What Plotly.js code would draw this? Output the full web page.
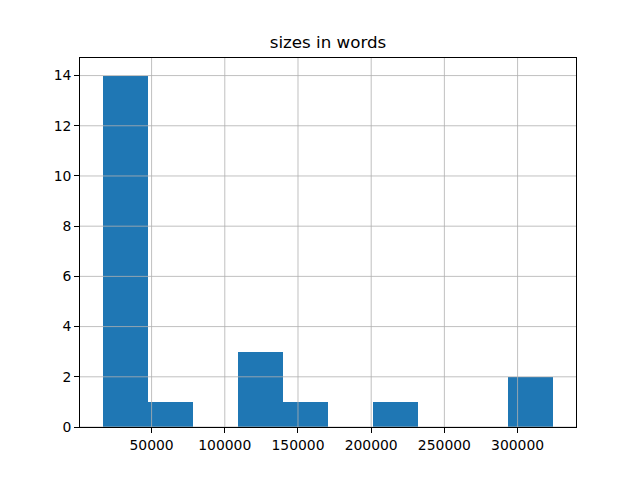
<!DOCTYPE html>
<html>
<head>
<meta charset="utf-8">
<script src="https://cdn.plot.ly/plotly-3.0.1.min.js"></script>
<style>html,body{margin:0;padding:0;background:#fff;}#chart{width:640px;height:480px;}</style>
</head>
<body>
<div id="chart"></div>
<script>
// Histogram bins (edges) and counts
const binEdges = [16500, 47300, 78100, 108900, 139700, 170500, 201300, 232100, 262900, 293700, 324500];
const counts = [14, 1, 0, 3, 1, 0, 1, 0, 0, 2];
const xTicks = [50000, 100000, 150000, 200000, 250000, 300000];
const yTicks = [0, 2, 4, 6, 8, 10, 12, 14];
const titleText = "sizes in words";

const centers = counts.map((c, i) => (binEdges[i] + binEdges[i + 1]) / 2);
const widths = counts.map((c, i) => binEdges[i + 1] - binEdges[i]);

const xRange = [1100, 339900];
const yRange = [0, 14.7];

const gridShapes = [];
xTicks.forEach(v => gridShapes.push({type: 'line', xref: 'x', yref: 'paper', x0: v, x1: v, y0: 0, y1: 1,
  line: {color: '#b0b0b0', width: 0.8}, layer: 'above'}));
yTicks.forEach(v => gridShapes.push({type: 'line', xref: 'paper', yref: 'y', x0: 0, x1: 1, y0: v, y1: v,
  line: {color: '#b0b0b0', width: 0.8}, layer: 'above'}));

const trace = {
  type: 'bar', x: centers, y: counts, width: widths,
  marker: {color: '#1f77b4', line: {width: 0}},
  hoverinfo: 'x+y'
};

const axisCommon = {
  showgrid: false, zeroline: false, showline: true, linecolor: '#000', linewidth: 1, mirror: true,
  ticks: 'outside', ticklen: 4.9, tickwidth: 1, tickcolor: '#000',
  tickfont: {family: 'DejaVu Sans', size: 13.9, color: '#000'}, layer: 'above traces'
};

const layout = {
  width: 640, height: 480,
  margin: {l: 80, r: 64, t: 57.6, b: 52.8, pad: 0},
  paper_bgcolor: '#fff', plot_bgcolor: '#fff',
  showlegend: false,
  title: {text: titleText, font: {family: 'DejaVu Sans', size: 16.7, color: '#000'},
    x: 0.5, xref: 'paper', xanchor: 'center', y: 1 - 42.5 / 480, yref: 'container', yanchor: 'middle'},
  xaxis: Object.assign({}, axisCommon, {range: xRange, tickmode: 'array', tickvals: xTicks,
    ticktext: xTicks.map(String)}),
  yaxis: Object.assign({}, axisCommon, {range: yRange, tickmode: 'array', tickvals: yTicks,
    ticktext: yTicks.map(String)}),
  bargap: 0,
  shapes: gridShapes
};

Plotly.newPlot('chart', [trace], layout, {staticPlot: true});
</script>
</body>
</html>
